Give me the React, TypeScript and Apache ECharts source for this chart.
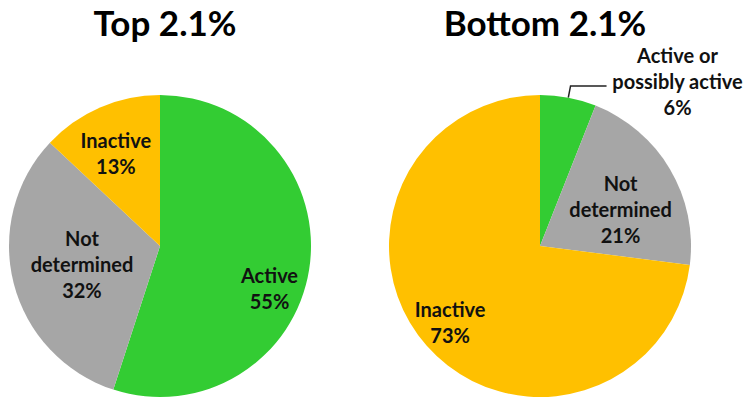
import React, { useEffect, useRef } from "react";
import * as echarts from "echarts";

const categories = ["Active", "Not determined", "Inactive"];
const topValues = [55, 32, 13];
const bottomValues = [6, 21, 73];
const titles = ["Top 2.1%", "Bottom 2.1%"];
const bottomLabelNames = ["Active or\npossibly active", "Not\ndetermined", "Inactive"];
const topLabelNames = ["Active", "Not\ndetermined", "Inactive"];
const sliceColors = ["#33CC33", "#A6A6A6", "#FFC000"];

// label shifts (px) from the default inside position
const topShifts: [number, number][] = [[32, 30], [-2, -2], [-13, -21]];
const bottomShifts: ([number, number] | null)[] = [null, [13, 3], [-31, 24]];

const FONT = "Lato, 'Open Sans', sans-serif";

function fmt(name: string, value: number, centered = false) {
  const lines = `${name}\n${value}%`.split("\n");
  if (!centered) return lines.join("\n");
  return lines.map((l) => `{c|${l}}`).join("\n");
}

export default function App() {
  const ref = useRef<HTMLDivElement>(null);
  useEffect(() => {
    if (!ref.current) return;
    const chart = echarts.init(ref.current, undefined, { renderer: "svg" });
    const labelBase = {
      fontFamily: FONT,
      fontWeight: "bold" as const,
      fontSize: 20,
      lineHeight: 26,
      color: "#111",
    };
    const makeData = (values: number[], names: string[], outsideFirst: boolean) =>
      values.map((v, i) => {
        const item: any = {
          name: categories[i],
          value: v,
          itemStyle: { color: sliceColors[i] },
        };
        if (outsideFirst && i === 0) {
          item.label = {
            show: true,
            position: "outside",
            formatter: fmt(names[i], v, true),
            padding: [0, 0, 10, 0],
            rich: {
              c: { ...labelBase, width: 132, align: "center" },
            },
          };
          item.labelLine = {
            show: true,
            length: 12,
            length2: 36,
            lineStyle: { color: "#222", width: 1.5 },
          };
        } else {
          item.label = {
            show: true,
            position: "inside",
            formatter: fmt(names[i], v),
            align: "center",
          };
          item.labelLine = { show: false };
        }
        return item;
      });

    chart.setOption({
      animation: false,
      backgroundColor: "#ffffff",
      title: titles.map((t, i) => ({
        text: t,
        left: i === 0 ? 160 : 540,
        top: -1,
        textAlign: "center",
        textStyle: {
          fontFamily: FONT,
          fontWeight: "bold",
          fontSize: 35,
          color: "#000",
        },
      })),
      series: [
        {
          type: "pie",
          center: [160, 246],
          radius: 151,
          startAngle: 90,
          clockwise: true,
          avoidLabelOverlap: false,
          emphasis: { disabled: true },
          itemStyle: { borderWidth: 0 },
          label: { ...labelBase },
          labelLayout: (p: any) => {
            const s = topShifts[p.dataIndex];
            return s ? { dx: s[0], dy: s[1] } : {};
          },
          data: makeData(topValues, topLabelNames, false),
        },
        {
          type: "pie",
          center: [540, 246],
          radius: 151,
          startAngle: 90,
          clockwise: true,
          avoidLabelOverlap: false,
          emphasis: { disabled: true },
          itemStyle: { borderWidth: 0 },
          label: { ...labelBase },
          labelLayout: (p: any) => {
            const s = bottomShifts[p.dataIndex];
            return s ? { dx: s[0], dy: s[1] } : {};
          },
          data: makeData(bottomValues, bottomLabelNames, true),
        },
      ],
    });
    return () => chart.dispose();
  }, []);
  return (
    <div
      ref={ref}
      style={{ position: "fixed", left: 0, top: 0, width: 750, height: 407 }}
    />
  );
}
